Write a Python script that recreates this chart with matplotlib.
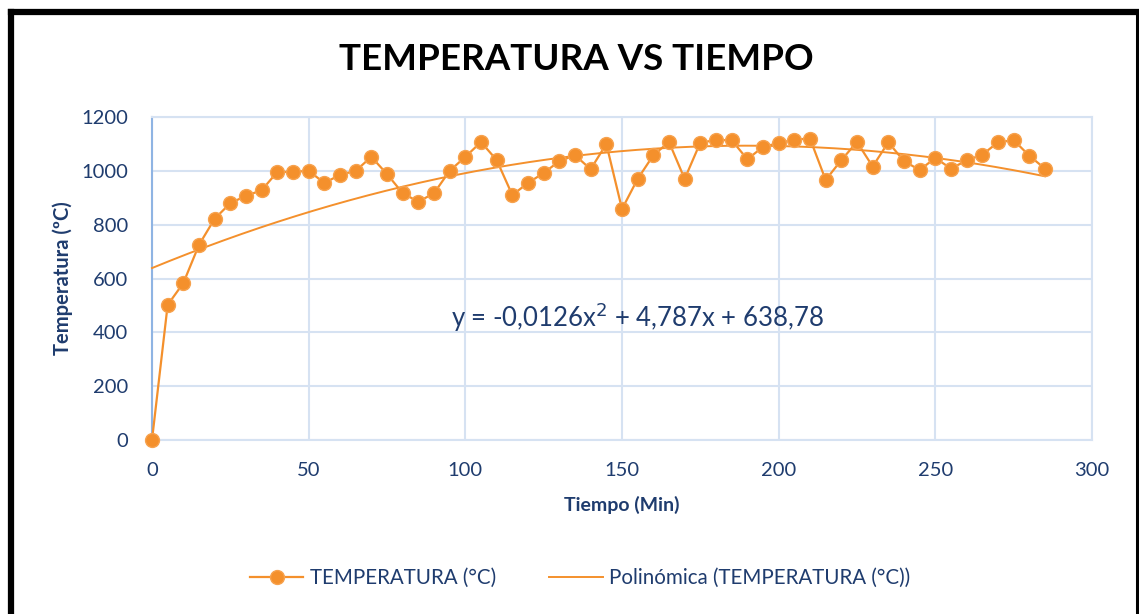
import matplotlib
matplotlib.use("Agg")
import matplotlib.pyplot as plt
import numpy as np
from matplotlib.lines import Line2D

# datos (cada 5 min)
tiempo = list(range(0, 290, 5))
temperatura = [0, 502, 583, 725, 822, 880, 907, 928, 996, 996,
               1000, 955, 985, 1000, 1052, 988, 917, 885, 917, 1000,
               1052, 1107, 1040, 910, 955, 992, 1036, 1058, 1006, 1100,
               858, 970, 1058, 1107, 970, 1105, 1114, 1114, 1043, 1089,
               1103, 1116, 1120, 966, 1040, 1107, 1016, 1106, 1036, 1003,
               1048, 1008, 1039, 1060, 1106, 1114, 1056, 1008]
# coeficientes de la linea de tendencia (polinomica grado 2)
coef = [-0.0126, 4.787, 638.78]

xticks = [0, 50, 100, 150, 200, 250, 300]
yticks = [0, 200, 400, 600, 800, 1000, 1200]

navy = '#1F3C6E'
naranja = '#F4902C'
grid_c = '#D6E2F2'

plt.rcParams['font.family'] = ['Lato', 'DejaVu Sans']

fig = plt.figure(figsize=(11.39, 6.14), dpi=100)
ax = fig.add_axes([152/1139, 1-440/614, (1092-152)/1139, (440-117)/614])

xt = np.linspace(0, 285, 200)
ax.plot(xt, np.polyval(coef, xt), color=naranja, lw=1.4,
        label='Polinómica (TEMPERATURA (°C))', zorder=3)
ax.plot(tiempo, temperatura, color=naranja, lw=1.6, marker='o', ms=10,
        mfc=naranja, mec='#F7A24E', mew=1, label='TEMPERATURA (°C)', zorder=4)

ax.set_xlim(0, 300)
ax.set_ylim(0, 1200)
ax.set_xticks(xticks)
ax.set_yticks(yticks)
ax.grid(True, color=grid_c, lw=1.5)
ax.set_axisbelow(True)
for s in ['top', 'right', 'bottom']:
    ax.spines[s].set_color(grid_c)
    ax.spines[s].set_linewidth(1.5)
ax.spines['left'].set_color('#8FB4E3')
ax.spines['left'].set_linewidth(1.5)
ax.tick_params(length=0, labelsize=14.5, labelcolor=navy)
ax.tick_params(axis='x', pad=16)
ax.tick_params(axis='y', pad=17)
for sp in ax.spines.values():
    sp.set_clip_on(False)
for l in ax.lines:
    l.set_clip_on(False)

ax.set_xlabel('Tiempo (Min)', fontsize=14, fontweight='bold', color=navy, labelpad=12)
ax.set_ylabel('Temperatura (ºC)', fontsize=14.5, fontweight='bold', color=navy, labelpad=6)

ax.text(155, 455, 'y = -0,0126x$^2$ + 4,787x + 638,78', fontsize=18.5, color=navy,
        ha='center', va='center')

fig.text(576/1139, 1-59/614, 'TEMPERATURA VS TIEMPO', fontsize=26.5, fontweight='bold',
         color='black', ha='center', va='center')

h, lab = ax.get_legend_handles_labels()
leg = fig.legend(h[::-1], lab[::-1], loc='center', bbox_to_anchor=(580/1139, 1-578/614),
                 ncol=2, frameon=False, fontsize=14.8, handlelength=2.6,
                 handletextpad=0.3, columnspacing=2.6)
for t in leg.get_texts():
    t.set_color(navy)

# marco negro
fig.add_artist(Line2D([11/1139, 11/1139], [0, 1-12/614], color='black', lw=4.5,
                      transform=fig.transFigure, solid_capstyle='projecting'))
fig.add_artist(Line2D([11/1139, 1136.5/1139], [1-12/614, 1-12/614], color='black', lw=4.5,
                      transform=fig.transFigure))
fig.add_artist(Line2D([1136.5/1139, 1136.5/1139], [0, 1-12/614], color='black', lw=2.2,
                      transform=fig.transFigure))

fig.savefig('out.png', dpi=100)
